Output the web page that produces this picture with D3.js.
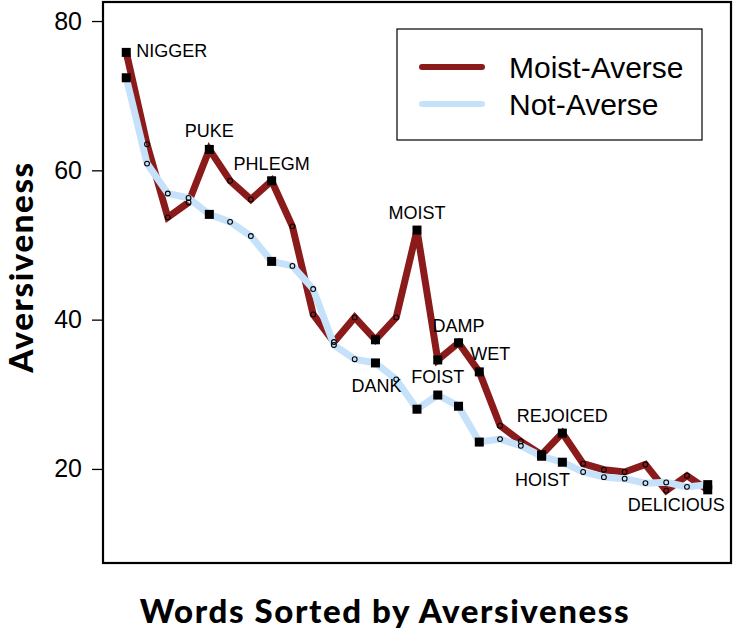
<!DOCTYPE html>
<html>
<head>
<meta charset="utf-8">
<script src="https://cdn.jsdelivr.net/npm/d3@7"></script>
<style>
  body { margin: 0; background: #fff; }
  svg { display: block; }
</style>
</head>
<body>
<div id="chart"></div>
<script>
// words ranked by aversiveness, 29 of them; only some are named on the chart
var wordIndex = d3.range(29);
var moistAverse = [75.8, 63.5, 53.7, 55.7, 62.8, 58.6, 56.1, 58.6, 52.5, 40.7, 37.0, 40.3, 37.3, 40.3, 52.0,
                   34.6, 36.9, 33.0, 25.8, 23.7, 21.9, 24.8, 20.7, 19.9, 19.6, 20.6, 17.1, 19.1, 17.2];
var notAverse = [72.4, 60.9, 56.9, 56.3, 54.1, 53.1, 51.2, 47.8, 47.2, 44.1, 36.6, 34.7, 34.2, 32.0, 28.0,
                 29.9, 28.4, 23.6, 24.0, 23.1, 21.7, 20.9, 19.6, 18.9, 18.7, 18.1, 18.2, 17.6, 17.9];
var namedIdx   = [0, 4, 7, 12, 14, 15, 16, 17, 20, 21, 28];
var namedWords = ["NIGGER", "PUKE", "PHLEGM", "DANK", "MOIST", "FOIST", "DAMP", "WET", "HOIST", "REJOICED", "DELICIOUS"];
var yTicks = [20, 40, 60, 80];
var seriesNames = ["Moist-Averse", "Not-Averse"];

// where each word label sits relative to its point (pixels)
var labelPlace = {
  "NIGGER":    {s: 0, dx: 10,  dy: 5,  anchor: "start"},
  "PUKE":      {s: 0, dx: 0,   dy: -12, anchor: "middle"},
  "PHLEGM":    {s: 0, dx: 0,   dy: -11, anchor: "middle"},
  "DANK":      {s: 1, dx: 1,   dy: 29, anchor: "middle"},
  "MOIST":     {s: 0, dx: 0,   dy: -11, anchor: "middle"},
  "FOIST":     {s: 1, dx: 0,   dy: -12, anchor: "middle"},
  "DAMP":      {s: 0, dx: 0,   dy: -11, anchor: "middle"},
  "WET":       {s: 0, dx: 11,  dy: -12, anchor: "middle"},
  "HOIST":     {s: 1, dx: 1,   dy: 30, anchor: "middle"},
  "REJOICED":  {s: 0, dx: 0,   dy: -11, anchor: "middle"},
  "DELICIOUS": {s: 0, dx: 17,  dy: 21, anchor: "end"}
};

var svgWidth = 733;
var svgHeight = 634;
var box = {left: 103, right: 731, top: 2, bottom: 563};

var red = "#8B1A1A";
var blue = "#C6E2FA";

var svg = d3.select("#chart")
  .append("svg")
  .attr("width", svgWidth)
  .attr("height", svgHeight);

var xScale = d3.scaleLinear()
  .domain([-1.12, 29.12])
  .range([box.left, box.right]);

var yScale = d3.scaleLinear()
  .domain([7.4, 82.55])
  .range([box.bottom, box.top]);

// y axis, ticks only (frame drawn separately)
var yAxis = d3.axisLeft(yScale)
  .tickValues(yTicks)
  .tickSize(11)
  .tickPadding(10);

var yG = svg.append("g")
  .attr("transform", `translate(${box.left}, 0)`)
  .call(yAxis);
yG.select(".domain").remove();
yG.selectAll(".tick line").attr("stroke", "#000").attr("stroke-width", 1.3);
yG.selectAll(".tick text")
  .attr("font-family", "Liberation Sans, Arial, sans-serif")
  .attr("font-size", "25px")
  .attr("fill", "#000");

// lines
var series = [moistAverse, notAverse];
var colors = [red, blue];

var line = d3.line()
  .x((d, i) => xScale(wordIndex[i]))
  .y(d => yScale(d));

series.forEach(function(vals, k) {
  svg.append("path")
    .datum(vals)
    .attr("d", line)
    .attr("fill", "none")
    .attr("stroke", colors[k])
    .attr("stroke-width", 7)
    .attr("stroke-linejoin", "miter");
});

// markers: small open circles for unnamed words, squares for named ones
series.forEach(function(vals, k) {
  var unnamed = wordIndex.filter(i => namedIdx.indexOf(i) < 0);
  svg.append("g").selectAll("circle")
    .data(unnamed)
    .enter()
    .append("circle")
    .attr("cx", i => xScale(i))
    .attr("cy", i => yScale(vals[i]))
    .attr("r", 2.4)
    .attr("fill", "none")
    .attr("stroke", "#000")
    .attr("stroke-width", 1.1);

  svg.append("g").selectAll("rect")
    .data(namedIdx)
    .enter()
    .append("rect")
    .attr("x", i => xScale(i) - 4.5)
    .attr("y", i => yScale(vals[i]) - 4.5)
    .attr("width", 9)
    .attr("height", 9)
    .attr("fill", "#000");
});

// word labels
svg.append("g").selectAll("text")
  .data(namedWords)
  .enter()
  .append("text")
  .attr("x", (w, j) => xScale(namedIdx[j]) + labelPlace[w].dx)
  .attr("y", (w, j) => yScale(series[labelPlace[w].s][namedIdx[j]]) + labelPlace[w].dy)
  .attr("text-anchor", w => labelPlace[w].anchor)
  .attr("font-family", "Liberation Sans, Arial, sans-serif")
  .attr("font-size", "18px")
  .attr("fill", "#000")
  .text(w => w);

// plot frame
svg.append("rect")
  .attr("x", box.left)
  .attr("y", box.top)
  .attr("width", box.right - box.left)
  .attr("height", box.bottom - box.top)
  .attr("fill", "none")
  .attr("stroke", "#000")
  .attr("stroke-width", 2.2);

// legend
var legend = svg.append("g");
legend.append("rect")
  .attr("x", 397)
  .attr("y", 29)
  .attr("width", 305)
  .attr("height", 111)
  .attr("fill", "#fff")
  .attr("stroke", "#000")
  .attr("stroke-width", 1.2);

seriesNames.forEach(function(name, k) {
  var ly = 67 + k * 37;
  legend.append("line")
    .attr("x1", 422).attr("x2", 482)
    .attr("y1", ly).attr("y2", ly)
    .attr("stroke", colors[k])
    .attr("stroke-width", 6)
    .attr("stroke-linecap", "round");
  legend.append("text")
    .attr("x", 509)
    .attr("y", ly + 10.5)
    .attr("font-family", "Liberation Sans, Arial, sans-serif")
    .attr("font-size", "30px")
    .attr("fill", "#000")
    .text(name);
});

// axis titles (reference font is wider than Lato, so spread the letters a bit)
svg.append("text")
  .attr("x", 385)
  .attr("y", 623)
  .attr("text-anchor", "middle")
  .attr("font-family", "Lato, sans-serif")
  .attr("font-weight", 900)
  .attr("font-size", "33px")
  .attr("letter-spacing", "1.6px")
  .attr("fill", "#000")
  .text("Words Sorted by Aversiveness");

svg.append("text")
  .attr("transform", "rotate(-90)")
  .attr("x", -267)
  .attr("y", 33)
  .attr("text-anchor", "middle")
  .attr("font-family", "Lato, sans-serif")
  .attr("font-weight", 900)
  .attr("font-size", "33px")
  .attr("letter-spacing", "1.6px")
  .attr("fill", "#000")
  .text("Aversiveness");
</script>
</body>
</html>
